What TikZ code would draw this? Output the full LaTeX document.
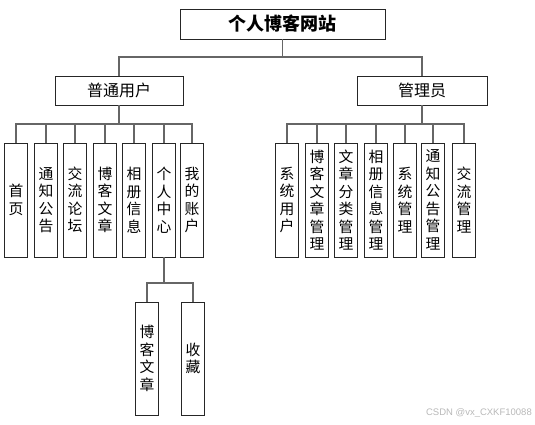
\documentclass[tikz,border=0pt]{standalone}
\usepackage{fontspec}
\setmainfont{Noto Sans CJK SC}
\newfontfamily\wmfont{Liberation Sans}
\begin{document}
\begin{tikzpicture}[x=1pt,y=-1pt,
  box/.style={draw=black!85,line width=0.8pt,fill=white,inner sep=0pt},
  leaf/.style={box,minimum width=23pt,minimum height=114pt,align=center,font=\fontsize{14.8}{17.5}\selectfont},
  subleaf/.style={leaf,minimum height=113pt},
  mid/.style={box,minimum height=29pt,font=\fontsize{16}{18}\selectfont},
  conn/.style={draw=black!60,line width=1.1pt}]
\useasboundingbox (0,0) rectangle (535,424);
\node[box,minimum width=205pt,minimum height=30pt,font=\fontsize{18}{20}\selectfont\bfseries] (root) at (282.5,24) {个人博客网站};
\node[mid,minimum width=128pt] (user) at (119,90.5) {普通用户};
\node[mid,minimum width=130pt] (admin) at (422,90.5) {管理员};
% left leaves
\node[leaf] (l1) at (16,200) {首\\页};
\node[leaf] (l2) at (46,200) {通\\知\\公\\告};
\node[leaf] (l3) at (75,200) {交\\流\\论\\坛};
\node[leaf] (l4) at (105,200) {博\\客\\文\\章};
\node[leaf] (l5) at (134,200) {相\\册\\信\\息};
\node[leaf] (l6) at (164,200) {个\\人\\中\\心};
\node[leaf] (l7) at (192,200) {我\\的\\账\\户};
% right leaves
\node[leaf] (r1) at (287,200) {系\\统\\用\\户};
\node[leaf] (r2) at (317,200) {博\\客\\文\\章\\管\\理};
\node[leaf] (r3) at (346,200) {文\\章\\分\\类\\管\\理};
\node[leaf] (r4) at (376,200) {相\\册\\信\\息\\管\\理};
\node[leaf] (r5) at (405,200) {系\\统\\管\\理};
\node[leaf] (r6) at (433,200) {通\\知\\公\\告\\管\\理};
\node[leaf] (r7) at (464,200) {交\\流\\管\\理};
% sub leaves
\node[subleaf] (s1) at (147,358.5) {博\\客\\文\\章};
\node[subleaf] (s2) at (193,358.5) {收\\藏};
% bus coordinates
\coordinate (b1) at (0,57);
\coordinate (b2) at (0,124);
\coordinate (b3) at (0,283);
% connectors
\draw[conn] (root.south) -- (root.south |- b1) -| (user.north);
\draw[conn] (root.south) -- (root.south |- b1) -| (admin.north);
\foreach \n in {l1,l2,l3,l4,l5,l6,l7}
  \draw[conn] (user.south) -- (user.south |- b2) -| (\n.north);
\foreach \n in {r1,r2,r3,r4,r5,r6,r7}
  \draw[conn] (admin.south) -- (admin.south |- b2) -| (\n.north);
\foreach \n in {s1,s2}
  \draw[conn] (l6.south) -- (l6.south |- b3) -| (\n.north);
\node[anchor=east,font=\wmfont\fontsize{9.5}{11}\selectfont,text=black!28,inner sep=0pt] (wm) at (532,413) {CSDN @vx\_CXKF10088};
\end{tikzpicture}
\end{document}
